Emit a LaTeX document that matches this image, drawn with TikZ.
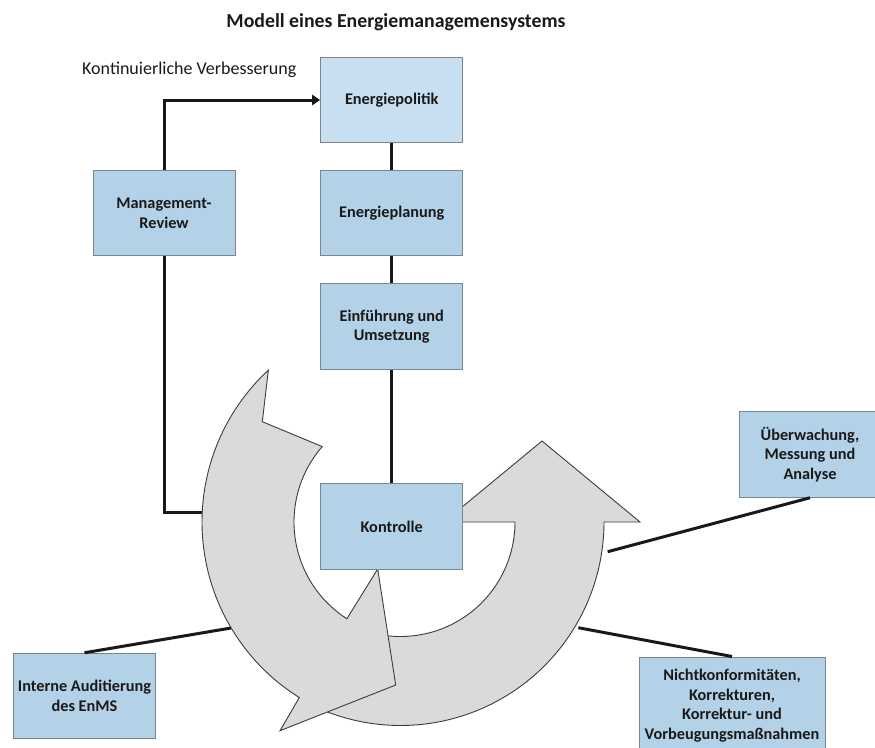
\documentclass[tikz,border=0pt]{standalone}
\usepackage{fontspec}
\setmainfont{Carlito}
\usetikzlibrary{arrows.meta}
\definecolor{boxfill}{HTML}{B4D2E7}
\definecolor{polfill}{HTML}{C7DFF0}
\definecolor{boxline}{HTML}{7A8590}
\definecolor{arrfill}{HTML}{D9DADC}
\definecolor{arrline}{HTML}{3C3C3C}
\begin{document}
\begin{tikzpicture}[x=1pt,y=-1pt,
  box/.style={draw=boxline, line width=1pt, fill=boxfill, minimum width=142pt, minimum height=85.5pt,
    align=center, inner sep=0pt, font=\fontsize{16.3}{19.5}\selectfont\bfseries, text=black!90},
  conn/.style={line width=3pt, draw=black!90},
  cycarrow/.style={fill=arrfill, draw=arrline, line width=0.9pt, line join=miter}]
\useasboundingbox (0,0) rectangle (875,747);
\clip (0,0) rectangle (875,747);

% titles
\node[anchor=base, font=\fontsize{19.8}{23}\selectfont\bfseries, text=black!90] (title) at (396,27) {Modell eines Energiemanagemensystems};
\node[anchor=base west, inner sep=0pt, font=\fontsize{18}{21}\selectfont, text=black!90] (sub) at (82,74) {Kontinuierliche Verbesserung};

% boxes (placed first for anchors; redrawn on top later)
\path
  (391.7,100)   node[box, fill=polfill] (pol)  {Energiepolitik}
  (391.7,213.2) node[box] (plan) {Energieplanung}
  (391.7,326.5) node[box] (einf) {Einführung und\\Umsetzung}
  (164,213.2)   node[box] (mgmt) {Management-\\Review}
  (84.5,696)    node[box] (int)  {Interne Auditierung\\des EnMS}
  (810,454.5)   node[box] (ueb)  {Überwachung,\\Messung und\\Analyse}
  (732,705.5)   node[box, minimum width=186pt, minimum height=97pt] (nicht) {Nichtkonformitäten,\\Korrekturen,\\Korrektur- und\\Vorbeugungsmaßnahmen};

\coordinate (mr) at (206,512.3);
\coordinate (ia) at (231,628);
\coordinate (ua) at (607.7,551.7);
\coordinate (na) at (578.3,627.7);

% connectors
\draw[conn] (mgmt.south) |- (mr);
\draw[conn] (int.north) -- (ia);
\draw[conn] (ueb.south) -- (ua);
\draw[conn] (nicht.north) -- (na);

% cycle arrows
\filldraw[cycarrow] plot[domain=115:0, samples=70] ({400.5+114.5*cos(\x)},{522+114.5*sin(\x)})
  -- (444,522) -- (542,441) -- (640,522)
  -- plot[domain=0:115, samples=90] ({400.5+203.5*cos(\x)},{522+203.5*sin(\x)}) -- cycle;
\filldraw[cycarrow] plot[domain=227.2:122, samples=120] ({409+207*cos(\x)},{522+207*sin(\x)})
  -- (280,730.7) -- (395.7,685) -- (377.7,569)
  -- plot[domain=122.7:221, samples=80] ({409+115*cos(\x)},{522+115*sin(\x)})
  -- (262.3,421.7) -- cycle;

\node[box] (kon) at (391.7,526.5) {Kontrolle};

\draw[conn, -{Triangle[length=8pt,width=10pt]}] (mgmt.north) |- (pol.west);
\draw[conn] (pol) -- (plan);
\draw[conn] (plan) -- (einf);
\draw[conn] (einf) -- (kon);

% redraw boxes on top of connectors
\path
  (391.7,100)   node[box, fill=polfill] {Energiepolitik}
  (391.7,213.2) node[box] {Energieplanung}
  (391.7,326.5) node[box] {Einführung und\\Umsetzung}
  (164,213.2)   node[box] {Management-\\Review}
  (391.7,526.5) node[box] {Kontrolle};
\end{tikzpicture}
\end{document}
